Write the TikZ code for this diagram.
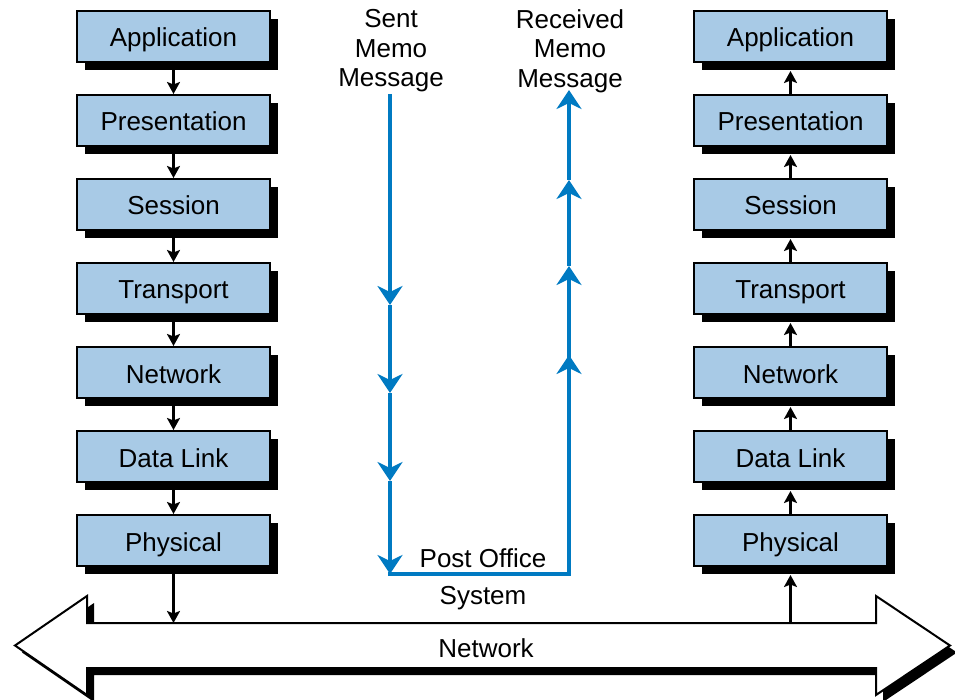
\documentclass[tikz,border=0pt]{standalone}
\usepackage{fontspec}
\setmainfont{Liberation Sans}
\usetikzlibrary{arrows.meta,shadows}
\definecolor{boxblue}{RGB}{168,202,230}
\definecolor{lineblue}{RGB}{0,122,194}
\begin{document}
\begin{tikzpicture}[x=1pt,y=-1pt,
  layer/.style={draw=black, line width=2pt, fill=boxblue, minimum width=193pt,
    minimum height=51pt, inner sep=0pt, text height=21pt, text depth=0pt,
    font=\fontsize{26}{30}\selectfont,
    drop shadow={shadow xshift=8pt, shadow yshift=-8pt, fill=black, opacity=1}},
  conn/.style={draw=black, line width=2.3pt, -{Stealth[length=12pt,width=13pt,inset=2.5pt]}},
  blu/.style={draw=lineblue, line width=4pt, line join=miter, -{Stealth[length=19pt,width=25pt,inset=6pt]}},
  lbl/.style={font=\fontsize{26}{29.5}\selectfont, align=center, inner sep=0pt}]
\useasboundingbox (0,0) rectangle (955,700);
% network arrow with shadow
\fill[black, shift={(7,7)}] (15,645.5) -- (87,596) -- (87,623) -- (876,623) -- (876,596) -- (950,645.5) -- (876,695) -- (876,668) -- (87,668) -- (87,695) -- cycle;
\draw[line width=2pt, fill=white, line join=miter] (15,645.5) -- (87,596) -- (87,623) -- (876,623) -- (876,596) -- (950,645.5) -- (876,695) -- (876,668) -- (87,668) -- (87,695) -- cycle;
\node[lbl] (net) at (486,648) {Network};
% layer stacks
\foreach \t [count=\i] in {Application,Presentation,Session,Transport,Network,Data Link,Physical} {
  \node[layer] (L\i) at (173.5,{36.5+84*(\i-1)}) {\t};
  \node[layer] (R\i) at (790.5,{36.5+84*(\i-1)}) {\t};
}
\foreach \i in {1,...,6} {
  \pgfmathtruncatemacro{\j}{\i+1}
  \draw[conn] (L\i.south) -- (L\j.north);
  \draw[conn] (R\j.north) -- ([yshift=-8pt]R\i.south);
}
\coordinate (nl) at (173.5,623);
\coordinate (nr) at (790.5,623);
\draw[conn] (L7.south) -- (nl);
\draw[conn] (nr) -- ([yshift=-8pt]R7.south);
% memo path
\coordinate (s0) at (390,94);
\coordinate (s1) at (390,305);
\coordinate (s2) at (390,393);
\coordinate (s3) at (390,481);
\coordinate (s4) at (390,574);
\coordinate (r0) at (569,574);
\coordinate (r1) at (569,355);
\coordinate (r2) at (569,266);
\coordinate (r3) at (569,180);
\coordinate (r4) at (569,90);
\draw[blu] (s0) -- (s1);
\draw[blu] (s1) -- (s2);
\draw[blu] (s2) -- (s3);
\draw[blu] (s3) -- (s4);
\draw[blu,-] ([xshift=-2pt]s4) -- (r0) -- (r1);
\draw[blu] (r0) -- (r1);
\draw[blu] (r1) -- (r2);
\draw[blu] (r2) -- (r3);
\draw[blu] (r3) -- (r4);
% labels
\node[lbl] (sent) at (391,51) {Sent\\Memo\\Message};
\node[lbl] (recv) at (570,51) {Received\\Memo\\Message};
\node[lbl] (po) at (483,558) {Post Office};
\node[lbl] (sys) at (483,598) {System};
\end{tikzpicture}
\end{document}
